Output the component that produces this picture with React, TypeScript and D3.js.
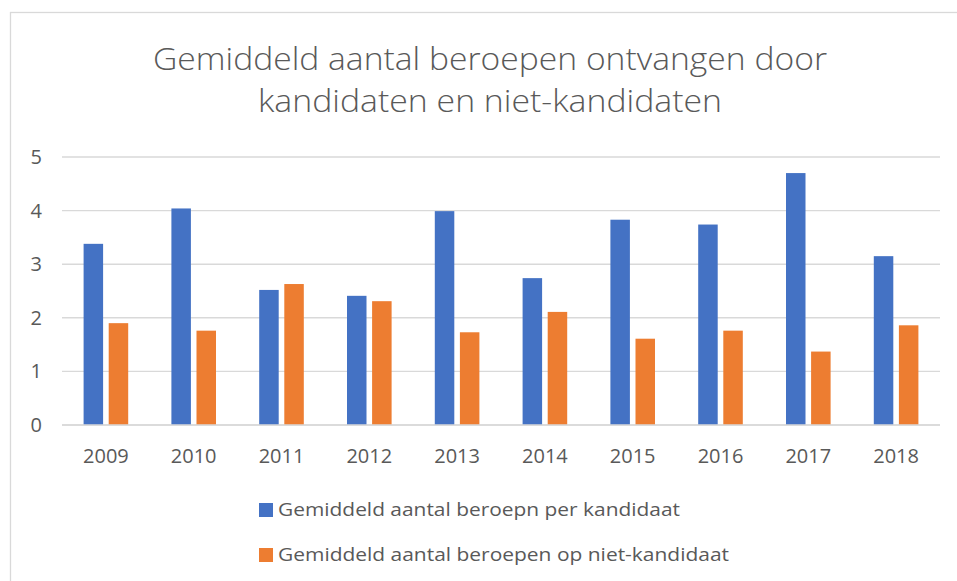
import { useRef, useEffect } from 'react'
import * as d3 from 'd3'

const years = ['2009', '2010', '2011', '2012', '2013', '2014', '2015', '2016', '2017', '2018']
const perKandidaat = [3.38, 4.04, 2.52, 2.41, 3.99, 2.74, 3.83, 3.74, 4.70, 3.15]
const nietKandidaat = [1.90, 1.76, 2.63, 2.31, 1.73, 2.11, 1.61, 1.76, 1.37, 1.86]
const seriesNames = ['Gemiddeld aantal beroepn per kandidaat', 'Gemiddeld aantal beroepen op niet-kandidaat']
const seriesColors = ['#4472C4', '#ED7D31']
const yTicks = [0, 1, 2, 3, 4, 5]
const titleLines = ['Gemiddeld aantal beroepen ontvangen door', 'kandidaten en niet-kandidaten']

function App() {
  const ref = useRef<SVGSVGElement>(null)

  useEffect(() => {
    const svg = d3.select(ref.current)
    svg.selectAll('*').remove()
    const font = "'Open Sans', 'Noto Sans', sans-serif"
    const textColor = '#595959'

    const left = 62, right = 940, top = 157, bottom = 425

    // chart frame
    svg.append('rect')
      .attr('x', 10.5).attr('y', 12.5)
      .attr('width', 960).attr('height', 600)
      .attr('fill', '#fff').attr('stroke', '#d9d9d9').attr('stroke-width', 1.3)

    // title
    svg.append('g').selectAll('text')
      .data(titleLines)
      .enter().append('text')
      .attr('x', 490)
      .attr('y', (d, i) => 70 + i * 42)
      .attr('text-anchor', 'middle')
      .attr('textLength', (d, i) => i === 0 ? 674 : 464)
      .attr('lengthAdjust', 'spacingAndGlyphs')
      .style('font', `300 31px ${font}`)
      .attr('fill', textColor)
      .text(d => d)

    const y = d3.scaleLinear().domain([0, 5]).range([bottom, top])
    const x0 = d3.scaleBand().domain(years).range([left, right]).paddingInner(0.492).paddingOuter(0.246)
    const x1 = d3.scaleBand().domain(['0', '1']).range([0, x0.bandwidth()]).paddingInner(0.223)

    // gridlines
    svg.append('g').selectAll('line')
      .data(yTicks)
      .enter().append('line')
      .attr('x1', left).attr('x2', right)
      .attr('y1', d => y(d)).attr('y2', d => y(d))
      .attr('stroke', '#d9d9d9').attr('stroke-width', 1.4)

    // y labels
    svg.append('g').selectAll('text')
      .data(yTicks)
      .enter().append('text')
      .attr('x', 42)
      .attr('y', d => y(d) + 7)
      .attr('text-anchor', 'end')
      .style('font', `20px ${font}`)
      .attr('fill', textColor)
      .text(d => d)

    // bars
    const groups = svg.append('g').selectAll('g')
      .data(years)
      .enter().append('g')
      .attr('transform', d => `translate(${x0(d)},0)`)
    groups.selectAll('rect')
      .data((d, i) => [perKandidaat[i], nietKandidaat[i]])
      .enter().append('rect')
      .attr('x', (d, j) => x1(String(j)) as number)
      .attr('y', d => y(d))
      .attr('width', x1.bandwidth())
      .attr('height', d => bottom - y(d))
      .attr('fill', (d, j) => seriesColors[j])

    // baseline redraw over bars
    svg.append('line')
      .attr('x1', left).attr('x2', right)
      .attr('y1', y(0)).attr('y2', y(0))
      .attr('stroke', '#d9d9d9').attr('stroke-width', 1.4)

    // x labels
    svg.append('g').selectAll('text')
      .data(years)
      .enter().append('text')
      .attr('x', d => (x0(d) as number) + x0.bandwidth() / 2)
      .attr('y', 463)
      .attr('text-anchor', 'middle')
      .style('font', `20px ${font}`)
      .attr('fill', textColor)
      .text(d => d)

    // legend
    const legend = svg.append('g').selectAll('g')
      .data(seriesNames)
      .enter().append('g')
      .attr('transform', (d, i) => `translate(259,${503 + i * 45})`)
    legend.append('rect')
      .attr('width', 14).attr('height', 14)
      .attr('fill', (d, i) => seriesColors[i])
    legend.append('text')
      .attr('x', 19).attr('y', 13)
      .attr('textLength', (d, i) => i === 0 ? 402 : 451)
      .attr('lengthAdjust', 'spacingAndGlyphs')
      .style('font', `19px ${font}`)
      .attr('fill', textColor)
      .text(d => d)
  }, [])

  return (
    <svg ref={ref} width={957} height={581}
      style={{ position: 'absolute', left: 0, top: 0, background: '#fff' }}>
    </svg>
  )
}

export default App
